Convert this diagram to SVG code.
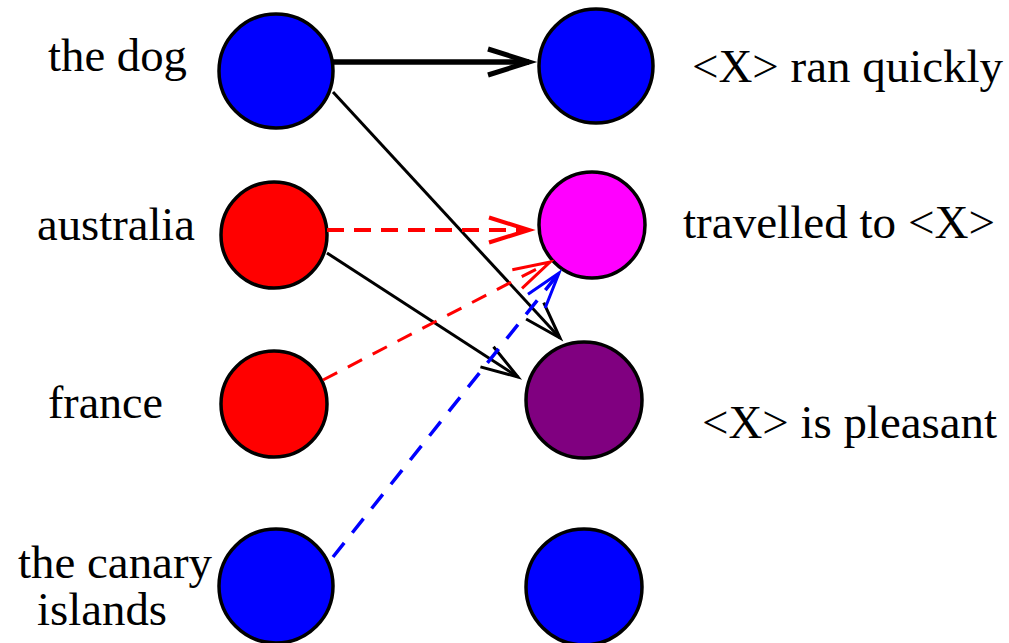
<svg xmlns="http://www.w3.org/2000/svg" width="1009" height="643" viewBox="0 0 1009 643">
<style>
  .node { stroke: #000; stroke-width: 3.5; }
  .lbl { font-family: "Liberation Serif", "Times New Roman", serif; font-size: 46px; fill: #000; }
  .conn { fill: none; }
  .blk { stroke: #000; stroke-width: 3; }
  .blkthick { stroke: #000; stroke-width: 5.5; }
  .red { stroke: #ff0000; stroke-width: 4; stroke-dasharray: 17 10; }
  .redthin { stroke: #ff0000; stroke-width: 3; stroke-dasharray: 16 12; }
  .blue { stroke: #0000ff; stroke-width: 3.5; stroke-dasharray: 18 13; }
</style>
<defs>
  <marker id="ahThick" markerUnits="userSpaceOnUse" viewBox="-45 -17 50 34" refX="0" refY="0" markerWidth="50" markerHeight="34" orient="auto" overflow="visible">
    <path d="M-41,-13 L0,0 L-41,13" fill="none" stroke="#000" stroke-width="5"/>
  </marker>
  <marker id="ahBlack" markerUnits="userSpaceOnUse" viewBox="-45 -17 50 34" refX="0" refY="0" markerWidth="50" markerHeight="34" orient="auto" overflow="visible">
    <path d="M-37,-12 L0,0 L-37,12" fill="none" stroke="#000" stroke-width="3"/>
  </marker>
  <marker id="ahRed" markerUnits="userSpaceOnUse" viewBox="-45 -17 50 34" refX="0" refY="0" markerWidth="50" markerHeight="34" orient="auto" overflow="visible">
    <path d="M-40,-12.5 L0,0 L-40,12.5" fill="none" stroke="#ff0000" stroke-width="4"/>
  </marker>
  <marker id="ahRedThin" markerUnits="userSpaceOnUse" viewBox="-45 -17 50 34" refX="0" refY="0" markerWidth="50" markerHeight="34" orient="auto" overflow="visible">
    <path d="M-37,-10.5 L0,0 L-37,10.5" fill="none" stroke="#ff0000" stroke-width="3"/>
  </marker>
  <marker id="ahBlue" markerUnits="userSpaceOnUse" viewBox="-45 -17 50 34" refX="0" refY="0" markerWidth="50" markerHeight="34" orient="auto" overflow="visible">
    <path d="M-36,-11 L0,0 L-36,11" fill="none" stroke="#0000ff" stroke-width="3"/>
  </marker>
</defs>
<rect width="1009" height="643" fill="#fff"/>

<g id="node-the-dog">
  <circle class="node" cx="276" cy="71" r="57" fill="#0000ff"/>
  <text class="lbl" x="48" y="71" textLength="139" lengthAdjust="spacingAndGlyphs">the dog</text>
</g>
<g id="node-australia">
  <circle class="node" cx="274" cy="235" r="53" fill="#ff0000"/>
  <text class="lbl" x="37" y="240" textLength="158" lengthAdjust="spacingAndGlyphs">australia</text>
</g>
<g id="node-france">
  <circle class="node" cx="274" cy="404" r="53" fill="#ff0000"/>
  <text class="lbl" x="48" y="418" textLength="115" lengthAdjust="spacingAndGlyphs">france</text>
</g>
<g id="node-canary-islands">
  <circle class="node" cx="276" cy="586" r="57" fill="#0000ff"/>
  <text class="lbl" x="18" y="578" textLength="194" lengthAdjust="spacingAndGlyphs">the canary</text>
  <text class="lbl" x="37" y="625" textLength="130" lengthAdjust="spacingAndGlyphs">islands</text>
</g>
<g id="node-ran-quickly">
  <circle class="node" cx="596" cy="66" r="57" fill="#0000ff"/>
  <text class="lbl" x="692" y="82" textLength="311" lengthAdjust="spacingAndGlyphs">&lt;X&gt; ran quickly</text>
</g>
<g id="node-travelled-to">
  <circle class="node" cx="592" cy="225" r="53" fill="#ff00ff"/>
  <text class="lbl" x="683" y="238" textLength="312" lengthAdjust="spacingAndGlyphs">travelled to &lt;X&gt;</text>
</g>
<g id="node-is-pleasant">
  <circle class="node" cx="584" cy="400" r="58" fill="#800080"/>
  <text class="lbl" x="702" y="438" textLength="295" lengthAdjust="spacingAndGlyphs">&lt;X&gt; is pleasant</text>
</g>
<g id="node-bottom-right">
  <circle class="node" cx="584" cy="587" r="58" fill="#0000ff"/>
</g>

<g id="connectors">
  <line class="conn blkthick" x1="333" y1="62" x2="529" y2="62" marker-end="url(#ahThick)"/>
  <line class="conn blk" x1="333" y1="92" x2="560" y2="338" marker-end="url(#ahBlack)"/>
  <line class="conn red" x1="327" y1="230" x2="529" y2="230" marker-end="url(#ahRed)"/>
  <line class="conn blk" x1="327" y1="253" x2="518" y2="377" marker-end="url(#ahBlack)"/>
  <line class="conn redthin" x1="323" y1="380" x2="550" y2="262" marker-end="url(#ahRedThin)"/>
  <line class="conn blue" x1="333" y1="557" x2="559" y2="273" marker-end="url(#ahBlue)"/>
</g>
</svg>
